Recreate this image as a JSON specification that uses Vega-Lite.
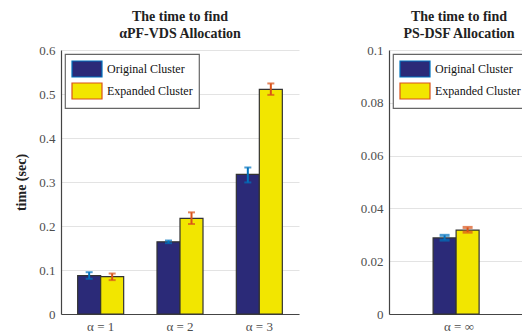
{
  "$schema": "https://vega.github.io/schema/vega-lite/v6.json",
  "background": "white",
  "padding": {"left": 14, "top": 10, "right": 0, "bottom": 5},
  "config": {
    "font": "Liberation Serif",
    "view": {"stroke": null},
    "axis": {"labelFont": "Liberation Serif", "labelFontSize": 13, "labelColor": "#4d4d4d", "domainColor": "#444", "domainWidth": 1.2, "gridColor": "#e3e3e3", "tickColor": "#444", "titleFont": "Liberation Serif"},
    "title": {"font": "Liberation Serif", "fontSize": 14, "fontWeight": "bold", "color": "#222", "lineHeight": 17, "offset": 3},
    "legend": {"orient": "top-left", "offset": 4, "strokeColor": "#666", "strokeWidth": 1.2, "padding": 6, "fillColor": "white", "symbolType": "M-1,-1H2.75V1H-1Z", "symbolSize": 256, "symbolStrokeColor": "#333", "symbolStrokeWidth": 1.2, "labelFont": "Liberation Serif", "labelFontSize": 12, "labelColor": "#111", "rowPadding": 0, "labelOffset": 18, "cornerRadius": 0}
  },
  "datasets": {
    "pf": [
      {"alpha": "α = 1", "series": "Original Cluster", "time": 0.087, "lo": 0.080, "hi": 0.095},
      {"alpha": "α = 1", "series": "Expanded Cluster", "time": 0.085, "lo": 0.077, "hi": 0.092},
      {"alpha": "α = 2", "series": "Original Cluster", "time": 0.164, "lo": 0.161, "hi": 0.167},
      {"alpha": "α = 2", "series": "Expanded Cluster", "time": 0.2175, "lo": 0.2045, "hi": 0.231},
      {"alpha": "α = 3", "series": "Original Cluster", "time": 0.3175, "lo": 0.299, "hi": 0.333},
      {"alpha": "α = 3", "series": "Expanded Cluster", "time": 0.5105, "lo": 0.498, "hi": 0.524}
    ],
    "ps": [
      {"alpha": "α = ∞", "series": "Original Cluster", "time": 0.0288, "lo": 0.0280, "hi": 0.0298},
      {"alpha": "α = ∞", "series": "Expanded Cluster", "time": 0.0318, "lo": 0.0310, "hi": 0.0328}
    ]
  },
  "hconcat": [
    {
      "width": 238,
      "height": 264,
      "title": {"text": ["The time to find", "αPF-VDS Allocation"], "font": "Liberation Serif"},
      "data": {"name": "pf"},
      "encoding": {
        "x": {"field": "alpha", "type": "nominal", "sort": null, "scale": {"paddingInner": 0.42, "paddingOuter": 0.21}, "axis": {"title": null, "labelAngle": 0, "ticks": false, "labelPadding": 6, "labelFont": "Liberation Serif"}},
        "xOffset": {"field": "series", "type": "nominal", "sort": ["Original Cluster", "Expanded Cluster"]}
      },
      "layer": [
        {
          "mark": {"type": "bar", "stroke": "#333", "strokeWidth": 1.2},
          "encoding": {
            "y": {"field": "time", "type": "quantitative", "scale": {"domain": [0, 0.6]}, "axis": {"title": "time (sec)", "titleFont": "Liberation Serif", "labelFont": "Liberation Serif", "titleFontSize": 14, "titleFontWeight": "bold", "titleColor": "#222", "titlePadding": 10, "values": [0, 0.1, 0.2, 0.3, 0.4, 0.5, 0.6], "format": ".2~f", "tickSize": 0, "labelPadding": 6}},
            "color": {"field": "series", "type": "nominal", "scale": {"domain": ["Original Cluster", "Expanded Cluster"], "range": ["#2b2a78", "#f2e600"]}, "legend": {"title": null, "labelFont": "Liberation Serif"}}
          }
        },
        {
          "mark": {"type": "rule", "strokeWidth": 2},
          "encoding": {
            "y": {"field": "lo", "type": "quantitative"},
            "y2": {"field": "hi"},
            "stroke": {"field": "series", "type": "nominal", "scale": {"domain": ["Original Cluster", "Expanded Cluster"], "range": ["#0072BD", "#D95319"]}, "legend": null}
          }
        },
        {
          "mark": {"type": "tick", "thickness": 2, "size": 7},
          "encoding": {
            "y": {"field": "lo", "type": "quantitative"},
            "fill": {"field": "series", "type": "nominal", "scale": {"domain": ["Original Cluster", "Expanded Cluster"], "range": ["#0072BD", "#D95319"]}, "legend": null}
          }
        },
        {
          "mark": {"type": "tick", "thickness": 2, "size": 7},
          "encoding": {
            "y": {"field": "hi", "type": "quantitative"},
            "fill": {"field": "series", "type": "nominal", "scale": {"domain": ["Original Cluster", "Expanded Cluster"], "range": ["#0072BD", "#D95319"]}, "legend": null}
          }
        }
      ]
    },
    {
      "width": 140,
      "height": 264,
      "title": {"text": ["The time to find", "PS-DSF Allocation"], "font": "Liberation Serif"},
      "data": {"name": "ps"},
      "encoding": {
        "x": {"field": "alpha", "type": "nominal", "sort": null, "scale": {"paddingInner": 0.63, "paddingOuter": 0.315}, "axis": {"title": null, "labelAngle": 0, "ticks": false, "labelPadding": 6, "labelFont": "Liberation Serif"}},
        "xOffset": {"field": "series", "type": "nominal", "sort": ["Original Cluster", "Expanded Cluster"]}
      },
      "layer": [
        {
          "mark": {"type": "bar", "stroke": "#333", "strokeWidth": 1.2},
          "encoding": {
            "y": {"field": "time", "type": "quantitative", "scale": {"domain": [0, 0.1]}, "axis": {"title": null, "labelFont": "Liberation Serif", "values": [0, 0.02, 0.04, 0.06, 0.08, 0.1], "format": ".2~f", "tickSize": 0, "labelPadding": 6}},
            "color": {"field": "series", "type": "nominal", "scale": {"domain": ["Original Cluster", "Expanded Cluster"], "range": ["#2b2a78", "#f2e600"]}, "legend": {"title": null, "labelFont": "Liberation Serif"}}
          }
        },
        {
          "mark": {"type": "rule", "strokeWidth": 2},
          "encoding": {
            "y": {"field": "lo", "type": "quantitative"},
            "y2": {"field": "hi"},
            "stroke": {"field": "series", "type": "nominal", "scale": {"domain": ["Original Cluster", "Expanded Cluster"], "range": ["#0072BD", "#D95319"]}, "legend": null}
          }
        },
        {
          "mark": {"type": "tick", "thickness": 3, "size": 10},
          "encoding": {
            "y": {"field": "lo", "type": "quantitative"},
            "fill": {"field": "series", "type": "nominal", "scale": {"domain": ["Original Cluster", "Expanded Cluster"], "range": ["#0072BD", "#D95319"]}, "legend": null}
          }
        },
        {
          "mark": {"type": "tick", "thickness": 3, "size": 10},
          "encoding": {
            "y": {"field": "hi", "type": "quantitative"},
            "fill": {"field": "series", "type": "nominal", "scale": {"domain": ["Original Cluster", "Expanded Cluster"], "range": ["#0072BD", "#D95319"]}, "legend": null}
          }
        }
      ]
    }
  ],
  "spacing": 61,
  "resolve": {"scale": {"x": "independent", "y": "independent", "color": "independent", "fill": "independent", "stroke": "independent"}, "legend": {"color": "independent"}}
}
